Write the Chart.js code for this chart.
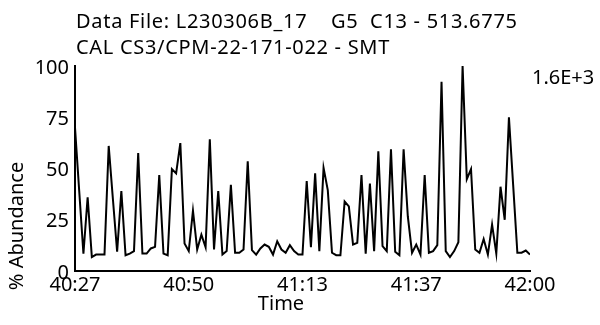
<!DOCTYPE html>
<html>
<head>
<meta charset="utf-8">
<script src="https://cdn.jsdelivr.net/npm/chart.js@4/dist/chart.umd.min.js"></script>
<style>
    body { margin: 0; background: #fff; }
    canvas { display: block; }
</style>
</head>
<body>
<canvas id="myChart" width="600" height="325"></canvas>
<script>
var titleLines = ['Data File: L230306B_17    G5  C13 - 513.6775', 'CAL CS3/CPM-22-171-022 - SMT'];
var scaleText = '1.6E+3';
var timeLabels = ['40:27', '40:50', '41:13', '41:37', '42:00'];
var abundanceTicks = [0, 25, 50, 75, 100];

// % abundance per scan
var abundance = [
    70, 39, 8.4, 36, 6.8, 8, 8, 8, 61, 35,
    9.4, 39, 7.7, 8.5, 9.7, 57.6, 8.5, 8.5, 11, 11.8,
    46.8, 8.5, 7.7, 49.7, 47.6, 62.4, 13.4, 9.7, 29.4, 10.5,
    17.7, 11.6, 64.2, 10.5, 39, 8, 9.7, 42, 8.9, 8.9,
    10.5, 53.5, 10.2, 8, 11, 12.9, 11.8, 8, 14.5, 10.5,
    8.9, 12.6, 9.7, 8, 8, 43.9, 11.6, 47.6, 9.7, 50.3,
    39.5, 8.9, 7.7, 7.7, 33.9, 31.5, 12.9, 13.7, 46.8, 8.5,
    42.7, 9.7, 58.4, 12.1, 9.7, 59.4, 9.4, 7.7, 59.4, 26.6,
    8.9, 12.9, 8, 46.8, 8.9, 9.7, 12.6, 92.3, 9.7, 6.8,
    9.7, 14, 100, 44.8, 49.7, 10.5, 8.9, 15.6, 8, 22.6,
    8.5, 41.1, 25, 75, 42, 8.9, 8.9, 10, 8
];

var FONT = '"Noto Sans", "Open Sans", sans-serif';

var textPlugin = {
    id: 'texts',
    afterDraw: function (chart) {
        var c = chart.ctx;
        c.save();
        c.fillStyle = '#000';
        c.textBaseline = 'alphabetic';
        c.textAlign = 'left';
        c.font = '20px ' + FONT;
        c.letterSpacing = '0.7px';
        c.fillText(titleLines[0], 76, 28);
        c.fillText(titleLines[1], 76, 54);
        c.letterSpacing = '0px';
        c.fillText(scaleText, 532, 84);
        c.textAlign = 'center';
        c.fillText('Time', 281, 310);
        c.translate(23, 226);
        c.rotate(-Math.PI / 2);
        c.fillText('% Abundance', 0, 0);
        c.restore();
    }
};

var points = abundance.map(function (v, i) {
    return { x: i, y: v };
});
var last = abundance.length - 1;

var ctx = document.getElementById('myChart');
new Chart(ctx, {
    type: 'line',
    data: {
        datasets: [{
            data: points,
            borderColor: '#000',
            borderWidth: 2,
            pointRadius: 0,
            tension: 0,
            fill: false
        }]
    },
    options: {
        responsive: false,
        animation: false,
        devicePixelRatio: 1,
        layout: { padding: { left: 0, right: 70, top: 66, bottom: 0 } },
        plugins: {
            legend: { display: false },
            title: { display: false },
            tooltip: { enabled: false }
        },
        scales: {
            x: {
                type: 'linear',
                min: 0,
                max: last,
                grid: { display: false, drawTicks: false },
                border: { display: true, color: '#000', width: 2 },
                afterBuildTicks: function (scale) {
                    scale.ticks = timeLabels.map(function (t, i) {
                        return { value: last * i / (timeLabels.length - 1) };
                    });
                },
                afterFit: function (scale) { scale.height = 54; },
                ticks: {
                    color: '#000',
                    font: { family: FONT, size: 20 },
                    padding: 2,
                    maxRotation: 0,
                    autoSkip: false,
                    callback: function (value, index) { return timeLabels[index]; }
                }
            },
            y: {
                min: 0,
                max: 100,
                grid: { display: false, drawTicks: false },
                border: { display: true, color: '#000', width: 2 },
                afterBuildTicks: function (scale) {
                    scale.ticks = abundanceTicks.map(function (v) { return { value: v }; });
                },
                afterFit: function (scale) { scale.width = 75; },
                ticks: {
                    color: '#000',
                    font: { family: FONT, size: 20 },
                    padding: 6,
                    labelOffset: 2
                }
            }
        }
    },
    plugins: [textPlugin]
});
</script>
</body>
</html>
